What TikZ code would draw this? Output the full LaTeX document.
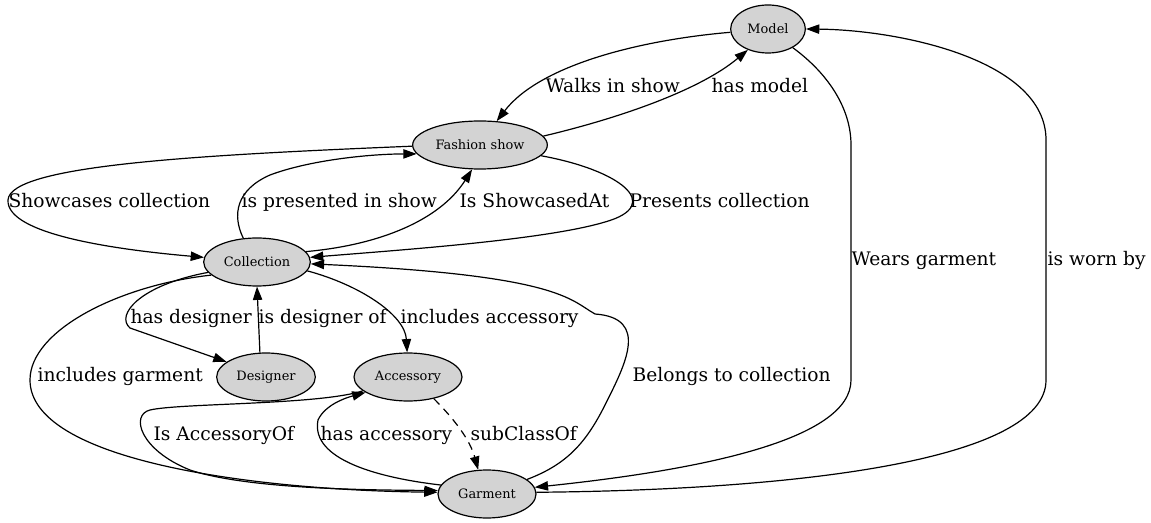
\documentclass[tikz,border=0pt]{standalone}
\usepackage{fontspec}
\setmainfont{DejaVu Serif}
\usetikzlibrary{positioning,arrows.meta,shapes.geometric}
\definecolor{nodegray}{RGB}{211,211,211}

\begin{document}
\begin{tikzpicture}[->, >={Triangle[length=10pt,width=7pt]}, x=0.75pt, y=-0.75pt, line width=0.9pt,
  main/.style={ellipse, draw, fill=nodegray, minimum height=36pt, inner sep=0pt, font=\fontsize{9.7pt}{11pt}\selectfont},
  lbl/.style={anchor=base west, inner sep=0pt, font=\fontsize{14pt}{16pt}\selectfont}]
\useasboundingbox (0,0) rectangle (1151,523);

\node[main, minimum width=56pt] (model) at (768,29) {Model};
\node[main, minimum width=101pt] (show) at (480,145) {Fashion show};
\node[main, minimum width=80pt] (coll) at (257,262) {Collection};
\node[main, minimum width=74pt] (des) at (266,377) {Designer};
\node[main, minimum width=81pt] (acc) at (408,377) {Accessory};
\node[main, minimum width=73.5pt] (garm) at (487,494) {Garment};

% edge labels
\node[lbl] (walks) at (545,93) {Walks in show};
\node[lbl] (hasmodel) at (711,93) {has model};
\node[lbl] (showcases) at (8,208) {Showcases collection};
\node[lbl] (presented) at (241,208) {is presented in show};
\node[lbl] (showcasedat) at (459,208) {Is ShowcasedAt};
\node[lbl] (presents) at (629,208) {Presents collection};
\node[lbl] (wears) at (851,266) {Wears garment};
\node[lbl] (wornby) at (1047,266) {is worn by};
\node[lbl] (hasdes) at (130,324) {has designer};
\node[lbl] (isdes) at (258,324) {is designer of};
\node[lbl] (inclacc) at (400,324) {includes accessory};
\node[lbl] (inclgarm) at (37,382) {includes garment};
\node[lbl] (belongs) at (632,382) {Belongs to collection};
\node[lbl] (accof) at (153,440) {Is AccessoryOf};
\node[lbl] (hasacc) at (320,440) {has accessory};
\node[lbl] (subcl) at (470,440) {subClassOf};

% model and show
\draw (model.185) .. controls (640,40) and (540,65) .. (show.55);
\draw (show.8) .. controls (620,118) and (700,90) .. (model.226);
\draw (model.-37) .. controls (830,75) and (851,110) .. (851,145) -- (851,380)
  .. controls (851,440) and (700,470) .. (garm.8);
\draw (garm.2) .. controls (800,490) and (1046,460) .. (1046,380) -- (1046,140)
  .. controls (1046,60) and (900,30) .. (model.0);

% show and collection
\draw (show.181) .. controls (200,155) and (10,165) .. (8,200)
  .. controls (6,235) and (120,250) .. (coll.175);
\draw (coll.120) .. controls (232,215) and (236,190) .. (270,175)
  .. controls (310,160) and (370,154) .. (show.188);
\draw (coll.12) .. controls (380,245) and (440,220) .. (show.252);
\draw (show.-10) .. controls (620,170) and (665,205) .. (605,222)
  .. controls (545,240) and (400,250) .. (coll.5);

% collection
\draw (coll.192) .. controls (140,285) and (115,315) .. (130,328) -- (des.159);
\draw (des.104) -- (coll.-90);
\draw (coll.-10) .. controls (360,285) and (405,315) .. (acc.92);
\draw (coll.196) .. controls (120,285) and (30,330) .. (30,380)
  .. controls (30,460) and (250,490) .. (garm.178);
\draw (garm.20) .. controls (565,465) and (585,445) .. (605,405)
  .. controls (625,365) and (650,318) .. (595,314)
  .. controls (570,300) and (560,275) .. (coll.-2);

% accessory and garment
\draw (acc.197) .. controls (320,405) and (180,403) .. (150,410)
  .. controls (130,415) and (140,450) .. (190,470)
  .. controls (250,490) and (380,490) .. (garm.176);
\draw (garm.169) .. controls (380,478) and (310,460) .. (318,420)
  .. controls (325,405) and (345,398) .. (acc.200);
\draw[dash pattern=on 6pt off 4.5pt] (acc.-40) .. controls (455,420) and (470,440) .. (garm.110);
\end{tikzpicture}
\end{document}
